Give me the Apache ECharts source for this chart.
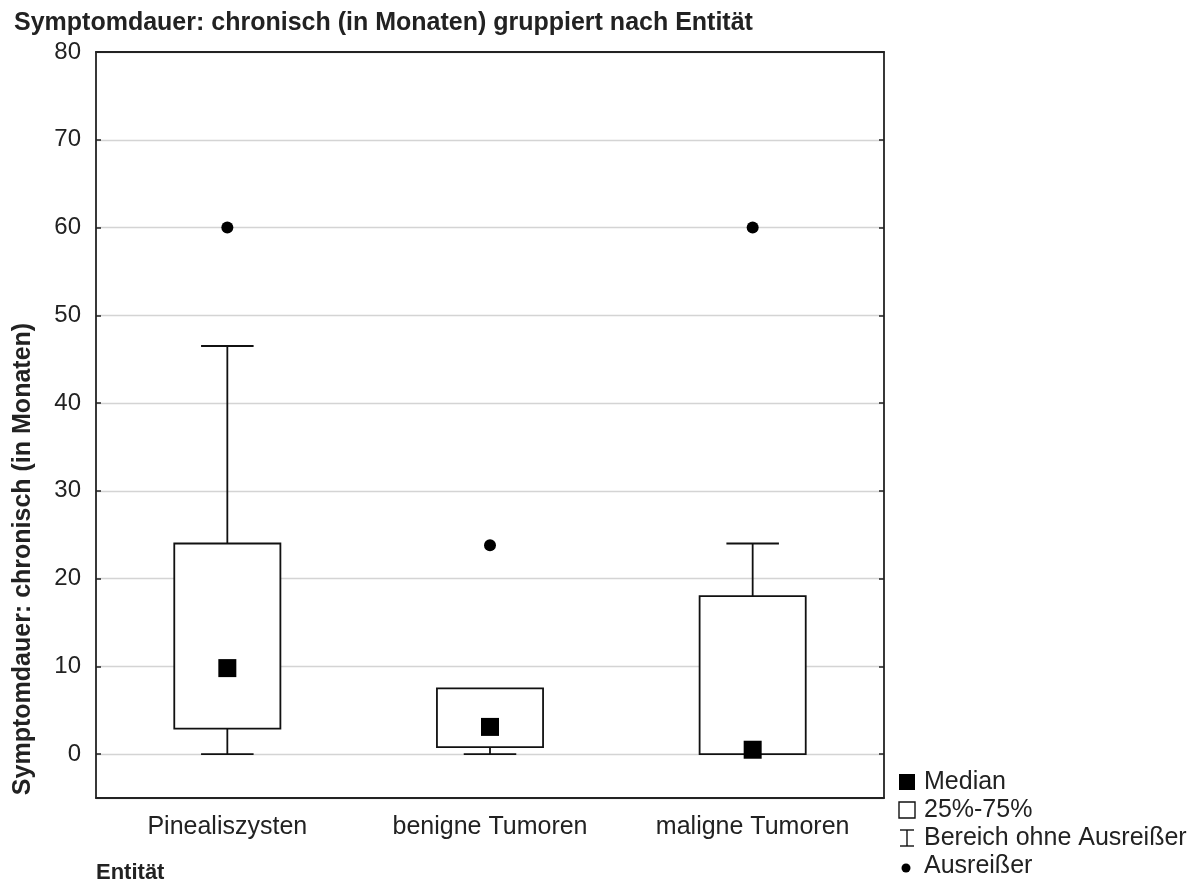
<!DOCTYPE html>
<html>
<head>
<meta charset="utf-8">
<script src="https://cdn.jsdelivr.net/npm/echarts@6/dist/echarts.min.js"></script>
<style>
  html, body { margin: 0; padding: 0; background: #ffffff; }
  #chart { width: 1195px; height: 884px; }
</style>
</head>
<body>
<div id="chart"></div>
<script>
// Symptom duration (months), grouped by entity
const categories = ['Pinealiszysten', 'benigne Tumoren', 'maligne Tumoren'];
const whiskerLow  = [0, 0, 0];
const quartile1   = [2.9, 0.8, 0];
const medians     = [9.8, 3.1, 0.5];
const quartile3   = [24, 7.5, 18];
const whiskerHigh = [46.5, 7.5, 24];
const outliers    = [[0, 60], [1, 23.8], [2, 60]];
const yTicks      = [0, 10, 20, 30, 40, 50, 60, 70, 80];

const FONT = '"Liberation Sans", Arial, sans-serif';
const TEXT = '#222222';

const boxData = categories.map((c, i) =>
  [i, whiskerLow[i], quartile1[i], medians[i], quartile3[i], whiskerHigh[i]]);

function renderBox(params, api) {
  const i = api.value(0);
  const lo = api.coord([i, api.value(1)]);
  const q1 = api.coord([i, api.value(2)]);
  const md = api.coord([i, api.value(3)]);
  const q3 = api.coord([i, api.value(4)]);
  const hi = api.coord([i, api.value(5)]);
  const band = api.size([1, 0])[0];
  const bw = band * 0.404;
  const cw = band * 0.2;
  const x = lo[0];
  const line = { stroke: '#111', lineWidth: 1.8, fill: null };
  const kids = [];
  if (hi[1] < q3[1] - 0.5) {
    kids.push({ type: 'line', shape: { x1: x, y1: q3[1], x2: x, y2: hi[1] }, style: line });
    kids.push({ type: 'line', shape: { x1: x - cw / 2, y1: hi[1], x2: x + cw / 2, y2: hi[1] }, style: line });
  }
  if (lo[1] > q1[1] + 0.5) {
    kids.push({ type: 'line', shape: { x1: x, y1: q1[1], x2: x, y2: lo[1] }, style: line });
    kids.push({ type: 'line', shape: { x1: x - cw / 2, y1: lo[1], x2: x + cw / 2, y2: lo[1] }, style: line });
  }
  kids.push({
    type: 'rect',
    shape: { x: x - bw / 2, y: q3[1], width: bw, height: q1[1] - q3[1] },
    style: { stroke: '#111', lineWidth: 1.8, fill: '#ffffff' }
  });
  const ms = 18;
  kids.push({
    type: 'rect',
    shape: { x: x - ms / 2, y: md[1] - ms / 2, width: ms, height: ms },
    style: { fill: '#000000', stroke: null }
  });
  return { type: 'group', children: kids };
}

const chart = echarts.init(document.getElementById('chart'), null, { renderer: 'canvas' });

const legendX = 899;
const legendRows = [782, 810, 838, 866];

const axisLineStyle = { color: '#222', width: 1.8 };
const tickStyle = { color: '#222', width: 1.5 };

chart.setOption({
  animation: false,
  backgroundColor: '#ffffff',
  title: {
    text: 'Symptomdauer: chronisch (in Monaten) gruppiert nach Entität',
    left: 9, top: 6,
    textStyle: { fontFamily: FONT, fontSize: 25, fontWeight: 'bold', color: TEXT }
  },
  grid: { left: 96, right: 311, top: 52, bottom: 86 },
  xAxis: [
    {
      type: 'category', data: categories, boundaryGap: true,
      axisLine: { onZero: false, lineStyle: axisLineStyle },
      axisTick: { inside: true, alignWithLabel: true, length: 5, lineStyle: tickStyle },
      axisLabel: { fontFamily: FONT, fontSize: 25, color: TEXT, margin: 17 },
      splitLine: { show: false }
    },
    {
      type: 'category', data: categories, boundaryGap: true, position: 'top',
      axisLine: { onZero: false, lineStyle: axisLineStyle },
      axisTick: { inside: true, alignWithLabel: true, length: 5, lineStyle: tickStyle },
      axisLabel: { show: false },
      splitLine: { show: false }
    }
  ],
  yAxis: [
    {
      type: 'value', min: -5, max: 80, minInterval: 10, maxInterval: 10, splitNumber: 8,
      axisLine: { show: true, onZero: false, lineStyle: axisLineStyle },
      axisTick: { show: true, inside: true, length: 5, lineStyle: tickStyle },
      axisLabel: {
        fontFamily: FONT, fontSize: 24, color: TEXT, margin: 15,
        formatter: v => (yTicks.indexOf(v) >= 0 ? String(v) : '')
      },
      splitLine: { show: true, lineStyle: { color: '#d4d4d4', width: 1.3 } }
    },
    {
      type: 'value', min: -5, max: 80, minInterval: 10, maxInterval: 10, splitNumber: 8, position: 'right',
      axisLine: { show: true, onZero: false, lineStyle: axisLineStyle },
      axisTick: { show: true, inside: true, length: 5, lineStyle: tickStyle },
      axisLabel: { show: false },
      splitLine: { show: false }
    }
  ],
  series: [
    {
      type: 'custom', name: 'Box', xAxisIndex: 0, yAxisIndex: 0,
      renderItem: renderBox, data: boxData, z: 3,
      encode: { x: 0, y: [1, 2, 3, 4, 5] }
    },
    {
      type: 'scatter', name: 'Ausreißer', xAxisIndex: 0, yAxisIndex: 0,
      data: outliers, symbol: 'circle', symbolSize: 12, z: 4,
      itemStyle: { color: '#000000', opacity: 1 }
    }
  ],
  graphic: [
    {
      type: 'text', x: 23, y: 559, rotation: Math.PI / 2,
      style: {
        text: 'Symptomdauer: chronisch (in Monaten)',
        font: 'bold 25px ' + FONT, fill: TEXT, textAlign: 'center', textVerticalAlign: 'middle'
      }
    },
    {
      type: 'text', x: 96, y: 873,
      style: { text: 'Entität', font: 'bold 22px ' + FONT, fill: TEXT, textAlign: 'left', textVerticalAlign: 'middle' }
    },
    // legend: median marker
    { type: 'rect', shape: { x: legendX, y: legendRows[0] - 8, width: 16, height: 16 }, style: { fill: '#000' } },
    // legend: box
    { type: 'rect', shape: { x: legendX, y: legendRows[1] - 8, width: 16, height: 16 }, style: { fill: '#fff', stroke: '#111', lineWidth: 1.4 } },
    // legend: whisker glyph
    { type: 'line', shape: { x1: legendX + 8, y1: legendRows[2] - 8, x2: legendX + 8, y2: legendRows[2] + 8 }, style: { stroke: '#111', lineWidth: 1.4 } },
    { type: 'line', shape: { x1: legendX + 1, y1: legendRows[2] - 8, x2: legendX + 15, y2: legendRows[2] - 8 }, style: { stroke: '#111', lineWidth: 1.4 } },
    { type: 'line', shape: { x1: legendX + 1, y1: legendRows[2] + 8, x2: legendX + 15, y2: legendRows[2] + 8 }, style: { stroke: '#111', lineWidth: 1.4 } },
    // legend: outlier dot
    { type: 'circle', shape: { cx: legendX + 7, cy: legendRows[3] + 2, r: 4.5 }, style: { fill: '#000' } },
    { type: 'text', x: legendX + 25, y: legendRows[0], style: { text: 'Median', font: '25px ' + FONT, fill: TEXT, textVerticalAlign: 'middle' } },
    { type: 'text', x: legendX + 25, y: legendRows[1], style: { text: '25%-75%', font: '25px ' + FONT, fill: TEXT, textVerticalAlign: 'middle' } },
    { type: 'text', x: legendX + 25, y: legendRows[2], style: { text: 'Bereich ohne Ausreißer', font: '25px ' + FONT, fill: TEXT, textVerticalAlign: 'middle' } },
    { type: 'text', x: legendX + 25, y: legendRows[3], style: { text: 'Ausreißer', font: '25px ' + FONT, fill: TEXT, textVerticalAlign: 'middle' } }
  ]
});
</script>
</body>
</html>
